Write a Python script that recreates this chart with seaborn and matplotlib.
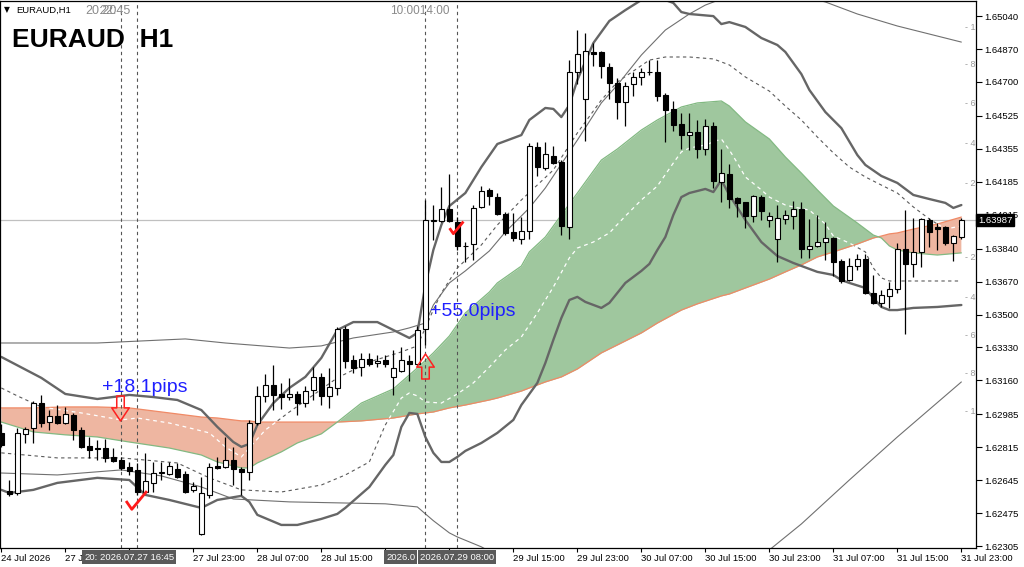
import numpy as np
import pandas as pd
import matplotlib
matplotlib.use("Agg")
import matplotlib.pyplot as plt
import seaborn as sns
from matplotlib.path import Path
from matplotlib.transforms import blended_transform_factory, TransformedPath

# ---------------- data (EURAUD H1, bar index 0 = 24 Jul 23:00) ----------------
opens = [1.62889, 1.62589, 1.62579, 1.62884, 1.62914, 1.63043, 1.62945, 1.62976, 1.62940, 1.62982,
         1.62904, 1.62822, 1.62811, 1.62811, 1.62765, 1.62749, 1.62713, 1.62698, 1.62584, 1.62631,
         1.62680, 1.62677, 1.62703, 1.62677, 1.62595, 1.62368, 1.62569, 1.62718, 1.62713, 1.62749,
         1.62703, 1.62688, 1.62940, 1.63080, 1.63136, 1.63090, 1.63074, 1.63090, 1.63043, 1.63111,
         1.63178, 1.63080, 1.63121, 1.63425, 1.63265, 1.63229, 1.63271, 1.63250, 1.63265, 1.63178,
         1.63211, 1.63260, 1.63245, 1.63425, 1.63983, 1.63983, 1.64045, 1.63978, 1.63854, 1.63864,
         1.64055, 1.64143, 1.64106, 1.64019, 1.63926, 1.63890, 1.63931, 1.64364, 1.64256, 1.64318,
         1.64287, 1.63952, 1.64752, 1.64612, 1.64855, 1.64855, 1.64777, 1.64695, 1.64597, 1.64690,
         1.64726, 1.64754, 1.64752, 1.64633, 1.64561, 1.64483, 1.64426, 1.64442, 1.64354, 1.64473,
         1.64184, 1.64225, 1.64101, 1.64081, 1.64008, 1.64106, 1.63988, 1.63890, 1.63993, 1.64008,
         1.64045, 1.63838, 1.63854, 1.63874, 1.63895, 1.63776, 1.63678, 1.63750, 1.63787, 1.63611,
         1.63560, 1.63596, 1.63632, 1.63838, 1.63761, 1.63823, 1.63988, 1.63952, 1.63952, 1.63869,
         1.63900]
highs = [1.62935, 1.62646, 1.62914, 1.62920, 1.63054, 1.63085, 1.63007, 1.63033, 1.63023, 1.62992,
         1.62920, 1.62868, 1.62853, 1.62858, 1.62811, 1.62765, 1.62739, 1.62734, 1.62786, 1.62739,
         1.62739, 1.62739, 1.62734, 1.62693, 1.62636, 1.62662, 1.62734, 1.62765, 1.62868, 1.62817,
         1.62713, 1.62956, 1.63131, 1.63193, 1.63240, 1.63147, 1.63173, 1.63105, 1.63131, 1.63229,
         1.63198, 1.63224, 1.63436, 1.63441, 1.63291, 1.63302, 1.63302, 1.63291, 1.63291, 1.63317,
         1.63333, 1.63291, 1.63441, 1.64091, 1.64065, 1.64158, 1.64225, 1.64003, 1.63874, 1.64065,
         1.64163, 1.64153, 1.64127, 1.64029, 1.64024, 1.64003, 1.64385, 1.64390, 1.64390, 1.64370,
         1.64297, 1.64813, 1.64968, 1.64953, 1.64901, 1.64860, 1.64798, 1.64720, 1.64700, 1.64752,
         1.64772, 1.64813, 1.64813, 1.64643, 1.64602, 1.64540, 1.64540, 1.64504, 1.64509, 1.64493,
         1.64354, 1.64277, 1.64106, 1.64081, 1.64117, 1.64117, 1.64029, 1.64065, 1.64039, 1.64086,
         1.64081, 1.63993, 1.64014, 1.63978, 1.63900, 1.63787, 1.63792, 1.63812, 1.63812, 1.63704,
         1.63627, 1.63668, 1.63869, 1.64039, 1.63998, 1.63998, 1.63998, 1.63972, 1.63957, 1.63910,
         1.63998]
lows = [1.62817, 1.62564, 1.62569, 1.62837, 1.62837, 1.62920, 1.62904, 1.62935, 1.62935, 1.62853,
        1.62811, 1.62760, 1.62749, 1.62739, 1.62739, 1.62698, 1.62672, 1.62569, 1.62579, 1.62584,
        1.62646, 1.62672, 1.62657, 1.62579, 1.62584, 1.62363, 1.62553, 1.62703, 1.62708, 1.62620,
        1.62569, 1.62646, 1.62930, 1.63049, 1.63007, 1.63013, 1.63059, 1.62982, 1.63023, 1.63059,
        1.63033, 1.63018, 1.63085, 1.63224, 1.63198, 1.63183, 1.63234, 1.63229, 1.63229, 1.63085,
        1.63204, 1.63157, 1.63240, 1.63343, 1.63885, 1.63978, 1.63978, 1.63833, 1.63771, 1.63781,
        1.64050, 1.64065, 1.64014, 1.63910, 1.63879, 1.63864, 1.63890, 1.64215, 1.64246, 1.64277,
        1.63910, 1.63890, 1.64690, 1.64395, 1.64782, 1.64720, 1.64612, 1.64509, 1.64473, 1.64628,
        1.64684, 1.64736, 1.64602, 1.64390, 1.64447, 1.64354, 1.64349, 1.64308, 1.64323, 1.64153,
        1.64081, 1.64050, 1.64003, 1.63946, 1.63978, 1.63988, 1.63952, 1.63771, 1.63967, 1.63941,
        1.63792, 1.63792, 1.63849, 1.63781, 1.63699, 1.63663, 1.63673, 1.63730, 1.63606, 1.63554,
        1.63539, 1.63534, 1.63611, 1.63400, 1.63694, 1.63745, 1.63849, 1.63833, 1.63859, 1.63776,
        1.63890]
closes = [1.62827, 1.62574, 1.62889, 1.62909, 1.63043, 1.62940, 1.62976, 1.62940, 1.62987, 1.62904,
          1.62817, 1.62801, 1.62806, 1.62760, 1.62744, 1.62708, 1.62693, 1.62584, 1.62641, 1.62682,
          1.62685, 1.62718, 1.62662, 1.62584, 1.62615, 1.62579, 1.62713, 1.62708, 1.62749, 1.62703,
          1.62688, 1.62940, 1.63080, 1.63136, 1.63085, 1.63074, 1.63090, 1.63043, 1.63105, 1.63178,
          1.63080, 1.63126, 1.63425, 1.63260, 1.63224, 1.63271, 1.63245, 1.63260, 1.63245, 1.63224,
          1.63265, 1.63245, 1.63420, 1.63988, 1.63988, 1.64045, 1.63983, 1.63854, 1.63856, 1.64050,
          1.64137, 1.64112, 1.64019, 1.63921, 1.63895, 1.63931, 1.64370, 1.64261, 1.64328, 1.64282,
          1.63957, 1.64752, 1.64844, 1.64860, 1.64844, 1.64782, 1.64695, 1.64597, 1.64679, 1.64726,
          1.64752, 1.64749, 1.64628, 1.64555, 1.64478, 1.64426, 1.64442, 1.64354, 1.64473, 1.64189,
          1.64230, 1.64096, 1.64076, 1.64008, 1.64112, 1.64034, 1.64008, 1.63998, 1.64014, 1.64045,
          1.63838, 1.63854, 1.63874, 1.63895, 1.63771, 1.63673, 1.63750, 1.63787, 1.63611, 1.63560,
          1.63601, 1.63632, 1.63838, 1.63761, 1.63823, 1.63993, 1.63926, 1.63941, 1.63869, 1.63905,
          1.63987]

# thick bands
band_up_bars = [0, 5, 8, 12, 16, 19, 22, 25, 27, 29, 30, 31, 32, 34, 36, 38, 40, 42, 44, 47,
                49, 51, 52, 53, 54, 55, 56, 58, 60, 62, 65, 66, 68, 69, 70, 71, 72, 74, 76, 78,
                80, 82, 84, 85, 86, 89, 90, 91, 93, 95, 97, 98, 100, 101, 103, 105, 107, 108, 110, 112,
                114, 116, 118, 119, 120]
band_up = [1.63281, 1.63173, 1.63090, 1.63064, 1.63085, 1.63074, 1.63059, 1.63007, 1.62920, 1.62842,
           1.62817, 1.62832, 1.62930, 1.63043, 1.63121, 1.63178, 1.63276, 1.63420, 1.63461, 1.63461,
           1.63420, 1.63379, 1.63405, 1.63652, 1.63833, 1.63962, 1.64060, 1.64127, 1.64261, 1.64380,
           1.64426, 1.64504, 1.64566, 1.64561, 1.64519, 1.64581, 1.64710, 1.64901, 1.65015, 1.65071,
           1.65123, 1.65138, 1.65108, 1.65061, 1.65051, 1.65040, 1.64999, 1.65009, 1.64984, 1.64927,
           1.64891, 1.64855, 1.64741, 1.64659, 1.64545, 1.64462, 1.64323, 1.64272, 1.64215, 1.64179,
           1.64117, 1.64096, 1.64076, 1.64050, 1.64065]
band_lo_bars = [0, 1, 4, 7, 12, 16, 18, 21, 25, 27, 30, 31, 32, 35, 37, 40, 42, 43, 46, 48,
                49, 50, 51, 52, 53, 54, 55, 56, 57, 58, 60, 62, 64, 65, 67, 68, 69, 70, 71, 72,
                73, 75, 76, 78, 80, 81, 82, 83, 84, 85, 86, 88, 89, 90, 91, 93, 95, 97, 99, 102,
                104, 105, 106, 108, 109, 110, 111, 112, 114, 117, 120]
band_lo = [1.62595, 1.62579, 1.62595, 1.62631, 1.62657, 1.62646, 1.62569, 1.62543, 1.62502, 1.62543,
           1.62564, 1.62533, 1.62466, 1.62414, 1.62414, 1.62445, 1.62471, 1.62502, 1.62610, 1.62724,
           1.62775, 1.62920, 1.62992, 1.62987, 1.62868, 1.62786, 1.62739, 1.62739, 1.62765, 1.62796,
           1.62837, 1.62889, 1.62956, 1.63033, 1.63147, 1.63250, 1.63369, 1.63482, 1.63575, 1.63591,
           1.63565, 1.63534, 1.63560, 1.63663, 1.63725, 1.63761, 1.63833, 1.63900, 1.64014, 1.64106,
           1.64127, 1.64148, 1.64132, 1.64194, 1.64117, 1.63988, 1.63874, 1.63802, 1.63766, 1.63720,
           1.63704, 1.63678, 1.63663, 1.63637, 1.63585, 1.63539, 1.63523, 1.63523, 1.63534, 1.63539,
           1.63549]

# thin envelope lines
thin_up_bars = [0, 12, 23, 28, 36, 40, 44, 49, 51, 53, 54, 56, 58, 61, 63, 66, 68, 70, 72, 75,
                77, 80, 83, 86, 88, 92, 98, 103, 107, 112, 120]
thin_up = [1.63353, 1.63353, 1.63374, 1.63353, 1.63327, 1.63338, 1.63379, 1.63410, 1.63431, 1.63456,
           1.63549, 1.63663, 1.63725, 1.63828, 1.63926, 1.64050, 1.64153, 1.64277, 1.64400, 1.64592,
           1.64684, 1.64839, 1.64968, 1.65051, 1.65097, 1.65159, 1.65164, 1.65113, 1.65051, 1.64989,
           1.64906]
thin_lo_bars = [0, 7, 15, 20, 25, 29, 36, 42, 48, 52, 54, 56, 57, 60, 64, 75, 88, 96, 100, 106, 112, 120]
thin_lo = [1.62682, 1.62672, 1.62698, 1.62667, 1.62610, 1.62548, 1.62533, 1.62528, 1.62523, 1.62507,
           1.62436, 1.62373, 1.62352, 1.62301, 1.62208, 1.62079, 1.62089, 1.62285, 1.62419, 1.62646,
           1.62868, 1.63152]

# dashed averages
dash1_bars = [0, 2, 5, 10, 15, 17, 21, 23, 26, 28, 30, 31, 33, 35, 36, 39, 42, 46, 50, 52,
              54, 55, 57, 60, 62, 65, 69, 72, 75, 77, 81, 83, 86, 89, 91, 93, 96, 98, 100, 102,
              104, 106, 108, 110, 112, 114, 116, 118, 120]
dash1 = [1.63121, 1.63080, 1.63023, 1.62992, 1.62956, 1.62966, 1.62940, 1.62920, 1.62889, 1.62817,
         1.62765, 1.62811, 1.62904, 1.62966, 1.62997, 1.63085, 1.63173, 1.63255, 1.63307, 1.63338,
         1.63524, 1.63611, 1.63740, 1.63859, 1.63962, 1.64091, 1.64246, 1.64437, 1.64607, 1.64700,
         1.64813, 1.64829, 1.64829, 1.64819, 1.64788, 1.64726, 1.64653, 1.64576, 1.64504, 1.64416,
         1.64334, 1.64261, 1.64210, 1.64168, 1.64127, 1.64055, 1.63993, 1.63941, 1.63957]
dash2_bars = [0, 7, 15, 22, 26, 30, 35, 40, 43, 46, 48, 50, 51, 52, 53, 55, 57, 59, 61, 63,
              65, 67, 69, 71, 72, 74, 76, 78, 80, 82, 84, 85, 86, 88, 90, 91, 92, 93, 95, 96,
              98, 99, 101, 103, 104, 106, 108, 109, 110, 111, 120]
dash2 = [1.62786, 1.62760, 1.62760, 1.62734, 1.62657, 1.62595, 1.62584, 1.62620, 1.62672, 1.62739,
         1.62930, 1.63069, 1.63095, 1.63080, 1.63049, 1.63043, 1.63090, 1.63147, 1.63229, 1.63317,
         1.63384, 1.63508, 1.63642, 1.63792, 1.63843, 1.63874, 1.63921, 1.64008, 1.64091, 1.64163,
         1.64282, 1.64339, 1.64359, 1.64375, 1.64406, 1.64349, 1.64282, 1.64210, 1.64143, 1.64106,
         1.64065, 1.64055, 1.64039, 1.63967, 1.63905, 1.63869, 1.63823, 1.63740, 1.63689, 1.63673,
         1.63673]

# cloud (fast / slow averages)
cloud_bars = [0, 4, 8, 12, 16, 21, 25, 27, 30, 31, 32, 35, 37, 40, 42, 45, 49, 52, 54, 56,
              58, 61, 62, 65, 66, 68, 70, 72, 75, 77, 80, 82, 85, 87, 90, 91, 93, 96, 98, 100,
              102, 104, 107, 109, 110, 111, 112, 114, 117, 120]
ma_fast = [1.62945, 1.62894, 1.62879, 1.62868, 1.62842, 1.62811, 1.62775, 1.62739, 1.62708, 1.62708,
           1.62734, 1.62791, 1.62837, 1.62884, 1.62945, 1.63043, 1.63116, 1.63224, 1.63302, 1.63389,
           1.63508, 1.63616, 1.63663, 1.63750, 1.63823, 1.63900, 1.64014, 1.64127, 1.64297, 1.64354,
           1.64452, 1.64504, 1.64571, 1.64592, 1.64602, 1.64576, 1.64494, 1.64406, 1.64313, 1.64230,
           1.64143, 1.64060, 1.63972, 1.63910, 1.63895, 1.63854, 1.63833, 1.63818, 1.63807, 1.63818]
ma_slow = [1.63018, 1.63018, 1.63023, 1.63023, 1.63018, 1.62992, 1.62971, 1.62966, 1.62951, 1.62951,
           1.62945, 1.62945, 1.62945, 1.62945, 1.62945, 1.62951, 1.62966, 1.62987, 1.62997, 1.63018,
           1.63033, 1.63059, 1.63069, 1.63105, 1.63121, 1.63152, 1.63178, 1.63219, 1.63302, 1.63343,
           1.63405, 1.63456, 1.63523, 1.63555, 1.63596, 1.63606, 1.63637, 1.63683, 1.63720, 1.63756,
           1.63797, 1.63823, 1.63864, 1.63895, 1.63905, 1.63916, 1.63921, 1.63941, 1.63967, 1.64003]

# axis / annotation values
current_price = 1.63987
ytick_prices = [1.65040, 1.64870, 1.64700, 1.64525, 1.64355, 1.64185, 1.64015, 1.63840, 1.63670,
                1.63500, 1.63330, 1.63160, 1.62985, 1.62815, 1.62645, 1.62475, 1.62305]
xtick_bars = [0, 8, 16, 24, 32, 40, 48, 56, 64, 72, 80, 88, 96, 104, 112, 120]
xtick_labels = ["24 Jul 2026", "27 Jul 07:00", "", "27 Jul 23:00", "28 Jul 07:00",
                "28 Jul 15:00", "", "", "29 Jul 15:00", "29 Jul 23:00",
                "30 Jul 07:00", "30 Jul 15:00", "30 Jul 23:00", "31 Jul 07:00", "31 Jul 15:00",
                "31 Jul 23:00"]
vline_bars = [14.96, 16.96, 52.96, 56.96]
sell_bar, sell_price = 14.85, 1.63018
buy_bar, buy_price = 53.0, 1.63235
check_bars = [16.8, 56.8]
check_prices = [1.62538, 1.63946]
pips_labels = ["+18.1pips", "+55.0pips"]
pips_bars = [12.55, 53.6]
pips_prices = [1.63121, 1.63514]

# ---------------- drawing ----------------
sns.set_style("ticks")
plt.rcParams['font.family'] = ['Liberation Sans', 'DejaVu Sans']
plt.rcParams['text.color'] = 'black'

W, H = 1024, 567
fig = plt.figure(figsize=(W / 100, H / 100), dpi=100)
fig.patch.set_facecolor('white')
ax = fig.add_axes([0.0, (H - 548) / H, 976 / W, 547 / H])
ax.set_facecolor('white')


def sline(xs, ys, **kw):
    sns.lineplot(x=xs, y=ys, ax=ax, estimator=None, sort=False, legend=False, **kw)
    return ax.lines[-1]


# cloud fills
cb = np.array(cloud_bars, dtype=float)
fa = np.array(ma_fast)
sl = np.array(ma_slow)
g_poly = ax.fill_between(cb, sl, fa, where=fa >= sl, interpolate=True,
                         color='#9fc79e', lw=0, zorder=1)
r_poly = ax.fill_between(cb, sl, fa, where=fa < sl, interpolate=True,
                         color='#eeb6a1', lw=0, zorder=1)
sline(cloud_bars, ma_slow, color='#f08a66', linewidth=0.9, zorder=1.2)
sline(cloud_bars, ma_fast, color='#82b982', linewidth=0.9, zorder=1.2)

clip = TransformedPath(Path.make_compound_path(*(list(g_poly.get_paths()) + list(r_poly.get_paths()))),
                       ax.transData)

# dashed averages: gray outside the cloud, white inside it
for bx, vals in [(dash1_bars, dash1), (dash2_bars, dash2)]:
    ln = sline(bx, vals, color='#5a5a5a', linewidth=0.8, zorder=0.9)
    ln.set_dashes([3, 3])
    lw_ = sline(bx, vals, color='white', linewidth=0.9, zorder=1.3)
    lw_.set_dashes([3, 3])
    lw_.set_clip_path(clip)

# thin envelope lines
sline(thin_up_bars, thin_up, color='#707070', linewidth=0.8, zorder=2)
sline(thin_lo_bars, thin_lo, color='#707070', linewidth=0.8, zorder=2)
# thick bands
sline(band_up_bars, band_up, color='#666666', linewidth=1.7, zorder=2.2)
sline(band_lo_bars, band_lo, color='#666666', linewidth=1.7, zorder=2.2)

# current price line
ax.axhline(current_price, color='#c0c0c0', linewidth=0.9, zorder=0.8)

# vertical event lines
for vb in vline_bars:
    vl = ax.axvline(vb, color='#555555', linewidth=0.8, zorder=2.5)
    vl.set_dashes([3, 3])

# candles
o = np.array(opens); h = np.array(highs); l = np.array(lows); c = np.array(closes)
bars = np.arange(len(o))
ax.vlines(bars, l, h, color='black', linewidth=0.9, zorder=4)
bull = c >= o
bottoms = np.minimum(o, c)
heights = np.maximum(np.abs(c - o), 0.000012)
ax.bar(bars, heights, bottom=bottoms, width=0.62,
       color=np.where(bull, 'white', 'black'), edgecolor='black', linewidth=0.8, zorder=5)

# signal arrows
down_arrow = Path([(-0.3, 1), (0.3, 1), (0.3, 0.05), (0.7, 0.05), (0, -1), (-0.7, 0.05),
                   (-0.3, 0.05), (-0.3, 1)], closed=True)
up_arrow = Path([(-0.3, -1), (0.3, -1), (0.3, -0.05), (0.7, -0.05), (0, 1), (-0.7, -0.05),
                 (-0.3, -0.05), (-0.3, -1)], closed=True)
ax.plot([sell_bar], [sell_price], marker=down_arrow, markersize=18, markerfacecolor='none',
        markeredgecolor='#ff2020', markeredgewidth=1.1, linestyle='none', zorder=6)
ax.plot([buy_bar], [buy_price], marker=up_arrow, markersize=18, markerfacecolor='none',
        markeredgecolor='#ff2020', markeredgewidth=1.1, linestyle='none', zorder=6)

check = Path([(-1, 0.05), (-0.45, -0.75), (1, 1)], [Path.MOVETO, Path.LINETO, Path.LINETO])
for cbx, cpy, ms in zip(check_bars, check_prices, [15, 10]):
    ax.plot([cbx], [cpy], marker=check, markersize=ms, markerfacecolor='none',
            markeredgecolor='#ff1a1a', markeredgewidth=2.0, linestyle='none', zorder=6)

for txt, pb, pp in zip(pips_labels, pips_bars, pips_prices):
    ax.text(pb, pp, txt, color='#1f1fff', fontsize=14, ha='left', va='center', zorder=7)

# axes setup
ax.set_xlim(-0.166, 121.83)
ax.set_ylim(1.62295, 1.65118)
ax.set_xlabel('')
ax.set_ylabel('')
ax.yaxis.tick_right()
ax.set_yticks(ytick_prices)
ax.set_yticklabels([f"{v:.5f}" for v in ytick_prices])
ax.set_xticks(xtick_bars)
ax.set_xticklabels(xtick_labels)
for t in ax.get_xticklabels():
    t.set_horizontalalignment('left')
ax.tick_params(axis='y', which='both', left=False, right=True, direction='out', length=4,
               width=0.8, pad=2, labelsize=6.8, colors='black')
ax.tick_params(axis='x', which='both', bottom=True, direction='out', length=3,
               width=0.8, pad=1.5, labelsize=6.8, colors='black')
for sp in ax.spines.values():
    sp.set_visible(True)
    sp.set_color('black')
    sp.set_linewidth(0.9)

# current price label box on the right scale
tr = blended_transform_factory(ax.transAxes, ax.transData)
ax.text(1.002, current_price, "1.63987", transform=tr, ha='left', va='center', color='white',
        fontsize=6.8, zorder=20, clip_on=False,
        bbox=dict(boxstyle='square,pad=0.18', fc='black', ec='black'))


def ftext(xp, yp, s, **kw):
    return fig.text(xp / W, 1 - yp / H, s, **kw)


# header texts
ftext(4, 10, "\u25BC", fontsize=5.5, va='center', family=['DejaVu Sans'])
ftext(16, 10, "EURAUD,H1", fontsize=6.8, va='center')
ftext(12, 40, "EURAUD  H1", fontsize=19, fontweight='bold', va='center')
ftext(85, 11, "20:20", fontsize=9, color='#8a8a8a', va='center')
ftext(99, 11, "22:45", fontsize=9, color='#8a8a8a', va='center')
ftext(390, 11, "10:0014:00", fontsize=8.5, color='#8a8a8a', va='center')

# right-side indicator scale marks
for yp, d in zip([27, 65, 103, 143, 183, 258, 297, 335, 373, 411],
                 ["1", "8", "6", "4", "2", "2", "4", "6", "8", "1"]):
    ftext(965, yp, "- " + d, fontsize=6.5, color='#9a9a9a', va='center')

# bottom time boxes of the vertical lines (the later ones cover the earlier)
box = dict(boxstyle='square,pad=0.22', fc='#5a5a5a', ec='none')
ftext(84, 557, "20:", fontsize=6.8, color='white', ha='left', va='center', bbox=box)
ftext(137, 557, "2026.07.27 16:45", fontsize=6.8, color='white', ha='center', va='center', bbox=box)
ftext(386, 557, "2026.0", fontsize=6.8, color='white', ha='left', va='center', bbox=box)
ftext(457, 557, "2026.07.29 08:00", fontsize=6.8, color='white', ha='center', va='center', bbox=box)

fig.savefig("out.png", dpi=100)
